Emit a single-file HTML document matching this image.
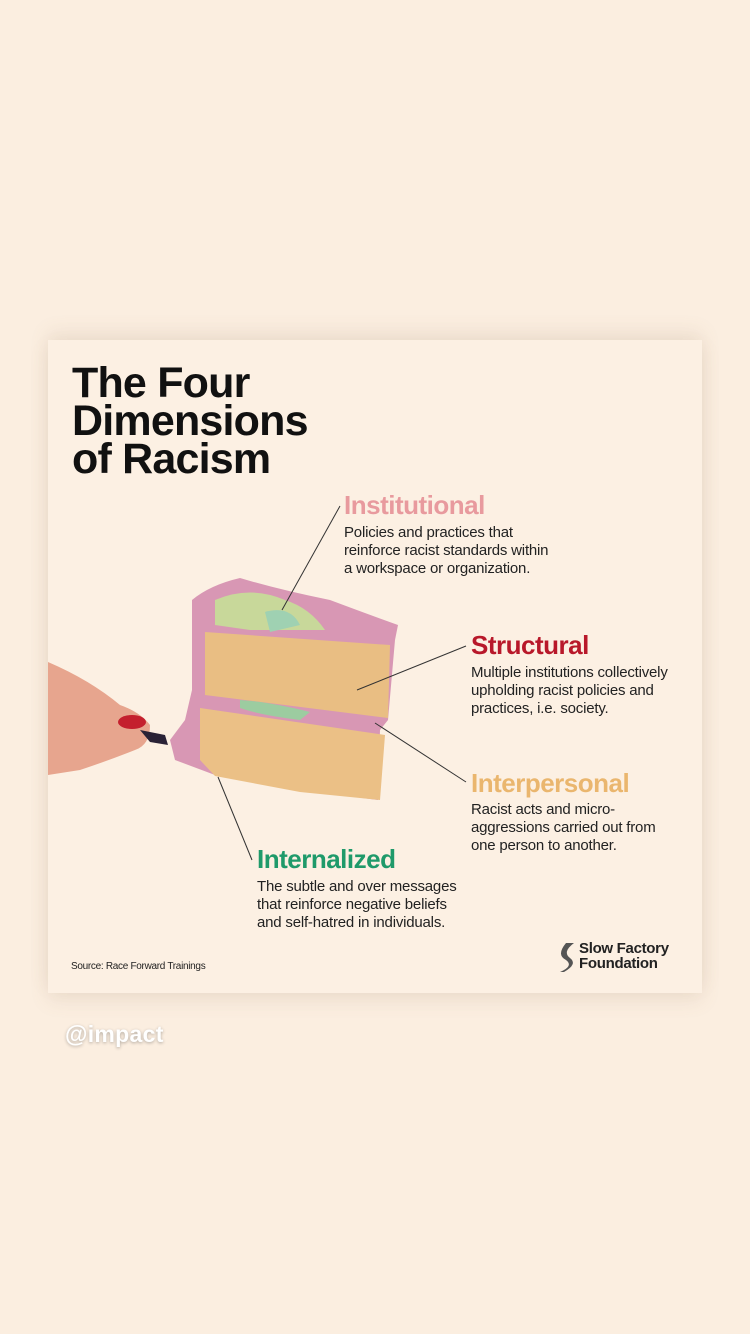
<!DOCTYPE html>
<html><head><meta charset="utf-8"><style>
html,body{margin:0;padding:0}
body{width:750px;height:1334px;background:#fbeee0;position:relative;overflow:hidden;font-family:"Liberation Sans",Arial,sans-serif}
.card{position:absolute;left:48px;top:340px;width:654px;height:653px;background:#fcf0e3;box-shadow:0 -8px 18px rgba(150,120,90,.12),0 8px 18px rgba(150,120,90,.12)}
.t{position:absolute;white-space:nowrap}
h1{position:absolute;left:72px;top:364px;margin:0;font-size:43px;line-height:38px;letter-spacing:-0.8px;font-weight:bold;color:#111}
.hd{font-size:26px;font-weight:bold;letter-spacing:-0.5px}
.bd{font-size:15px;line-height:18px;color:#222;letter-spacing:-0.2px}
</style></head><body>
<div class="card"></div>
<h1>The Four<br>Dimensions<br>of Racism</h1>
<svg style="position:absolute;left:0;top:0" width="750" height="1334">
<path d="M48 662 Q90 680 120 705 Q140 712 150 725 Q150 745 135 750 Q110 760 80 770 L48 775 Z" fill="#e7a58e"/>
<ellipse cx="132" cy="722" rx="14" ry="7" fill="#c4202e"/>
<path d="M140 730 L165 735 L168 745 L150 742 Z" fill="#2a2236"/>
<path d="M192 600 Q210 585 240 578 Q280 590 330 600 Q370 615 398 625 L395 640 L388 720 L380 730 L378 800 L300 790 L215 775 L175 760 L170 740 L185 720 L192 690 Z" fill="#d897b4"/>
<path d="M215 600 Q250 585 285 600 Q310 608 325 630 L250 630 L215 625 Z" fill="#c8d89a"/>
<path d="M265 612 Q290 605 300 625 L270 632 Z" fill="#9fd1b2"/>
<path d="M205 632 L390 645 L388 718 L205 695 Z" fill="#e9be83"/>
<path d="M200 708 L385 735 L380 800 L300 792 L215 776 L200 760 Z" fill="#ebc086"/>
<path d="M240 700 Q270 702 310 712 L300 720 Q260 715 240 708 Z" fill="#9ccca0"/>
<g stroke="#333" stroke-width="1" fill="none">
<line x1="340" y1="506" x2="282" y2="610"/>
<line x1="466" y1="646" x2="357" y2="690"/>
<line x1="466" y1="782" x2="375" y2="723"/>
<line x1="252" y1="860" x2="218" y2="777"/>
</g>
<path d="M566 943 Q556 955 566 960 Q574 966 560 972 L564 972 Q578 964 570 958 Q562 952 574 943 Z" fill="#555"/>
</svg>
<div class="t hd" style="left:344px;top:490px;color:#e89a9e">Institutional</div>
<div class="t bd" style="left:344px;top:524px">Policies and practices that<br>reinforce racist standards within<br>a workspace or organization.</div>
<div class="t hd" style="left:471px;top:630px;color:#b8182a">Structural</div>
<div class="t bd" style="left:471px;top:664px">Multiple institutions collectively<br>upholding racist policies and<br>practices, i.e. society.</div>
<div class="t hd" style="left:471px;top:768px;color:#eab66e">Interpersonal</div>
<div class="t bd" style="left:471px;top:801px">Racist acts and micro-<br>aggressions carried out from<br>one person to another.</div>
<div class="t hd" style="left:257px;top:844px;color:#1f9a6a">Internalized</div>
<div class="t bd" style="left:257px;top:878px">The subtle and over messages<br>that reinforce negative beliefs<br>and self-hatred in individuals.</div>
<div class="t" style="left:71px;top:961px;font-size:10px;letter-spacing:-0.3px;color:#222">Source: Race Forward Trainings</div>
<div class="t" style="left:579px;top:941px;font-size:15px;line-height:15px;font-weight:bold;color:#222;letter-spacing:-0.3px">Slow Factory<br>Foundation</div>
<div class="t" style="left:65px;top:1021px;font-size:23px;font-weight:bold;color:#fff;letter-spacing:0.3px;text-shadow:0 1px 3px rgba(0,0,0,.3)">@impact</div>
</body></html>
